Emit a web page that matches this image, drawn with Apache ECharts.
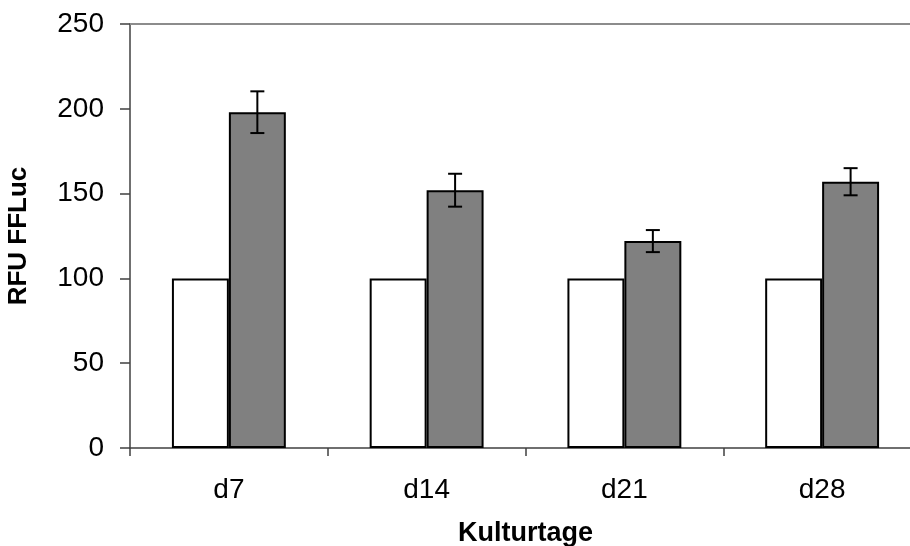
<!DOCTYPE html>
<html>
<head>
<meta charset="utf-8">
<script src="https://cdn.jsdelivr.net/npm/echarts@6/dist/echarts.min.js"></script>
<style>html,body{margin:0;padding:0;background:#fff;}#c{width:910px;height:546px;}</style>
</head>
<body>
<div id="c"></div>
<script>
var categories = ['d7', 'd14', 'd21', 'd28'];
var controlValues = [100, 100, 100, 100];
var treatedValues = [198, 152, 122, 157];
var treatedErrors = [12.3, 9.7, 6.5, 8];
var yTicks = [0, 50, 100, 150, 200, 250];

var chart = echarts.init(document.getElementById('c'), null, {renderer: 'canvas'});
var font = '"Liberation Sans", Arial, sans-serif';
var errData = categories.map(function (c, i) {
  return [i, treatedValues[i] - treatedErrors[i], treatedValues[i] + treatedErrors[i]];
});
chart.setOption({
  animation: false,
  backgroundColor: '#fff',
  grid: {left: 130, top: 24, height: 424, width: 791, containLabel: false, outerBoundsMode: 'none'},
  xAxis: {
    type: 'category', data: categories,
    name: 'Kulturtage', nameLocation: 'middle', nameGap: 72,
    nameTextStyle: {fontFamily: font, fontSize: 27, fontWeight: 'bold', color: '#000'},
    axisLine: {lineStyle: {color: '#404040', width: 1.5}},
    axisTick: {show: true, length: 8, lineStyle: {color: '#404040', width: 1.5}},
    axisLabel: {fontFamily: font, fontSize: 28, color: '#000', margin: 28}
  },
  yAxis: {
    type: 'value', min: yTicks[0], max: yTicks[yTicks.length - 1], interval: 50,
    name: 'RFU FFLuc', nameLocation: 'middle', nameGap: 98, nameRotate: 90,
    nameTextStyle: {fontFamily: font, fontSize: 26, fontWeight: 'bold', color: '#000'},
    axisLine: {show: true, lineStyle: {color: '#404040', width: 1.5}},
    axisTick: {show: true, length: 10, lineStyle: {color: '#404040', width: 1.5}},
    axisLabel: {fontFamily: font, fontSize: 28, color: '#000', margin: 26},
    splitLine: {show: false}
  },
  series: [
    {
      type: 'bar', name: 'control', data: controlValues,
      barWidth: '28.8%', barGap: '0%',
      itemStyle: {color: '#ffffff', borderColor: '#000', borderWidth: 2},
      markLine: {
        silent: true, symbol: 'none', label: {show: false},
        lineStyle: {color: '#8c8c8c', width: 2, type: 'solid'},
        data: [{yAxis: yTicks[yTicks.length - 1]}]
      }
    },
    {
      type: 'bar', name: 'treated', data: treatedValues,
      barWidth: '28.8%', barGap: '0%',
      itemStyle: {color: '#808080', borderColor: '#000', borderWidth: 2}
    },
    {
      type: 'custom', name: 'error', data: errData, z: 10,
      renderItem: function (params, api) {
        var idx = api.value(0);
        var lo = api.coord([idx, api.value(1)]);
        var hi = api.coord([idx, api.value(2)]);
        var band = api.size([1, 0])[0];
        var x = lo[0] + band * 0.144;
        var cap = 7;
        var st = {stroke: '#000', lineWidth: 2};
        return {type: 'group', children: [
          {type: 'line', shape: {x1: x, y1: hi[1], x2: x, y2: lo[1]}, style: st},
          {type: 'line', shape: {x1: x - cap, y1: hi[1], x2: x + cap, y2: hi[1]}, style: st},
          {type: 'line', shape: {x1: x - cap, y1: lo[1], x2: x + cap, y2: lo[1]}, style: st}
        ]};
      }
    }
  ]
});
</script>
</body>
</html>
